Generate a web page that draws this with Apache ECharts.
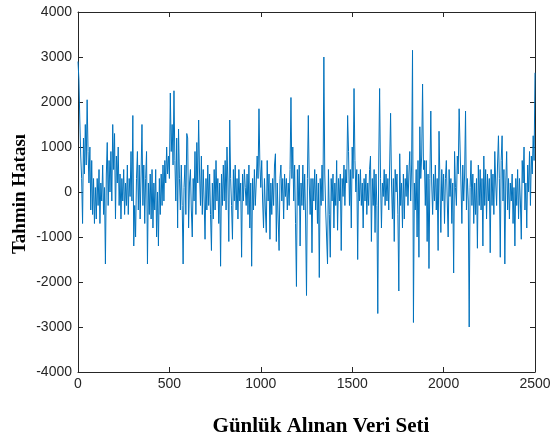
<!DOCTYPE html>
<html>
<head>
<meta charset="utf-8">
<script src="https://cdn.jsdelivr.net/npm/echarts@6/dist/echarts.min.js"></script>
<style>
  html, body { margin: 0; padding: 0; background: #fff; }
  #chart { width: 550px; height: 441px; }
</style>
</head>
<body>
<div id="chart"></div>
<script>
// one value every 5 days
const step = 5;
const errors = [
  2900, 2500, 1600, 800, 300, -700, 1200, 400, 1500, 600, 2050, 900, 200, 1000, -400, 700, -500, 300, -700, 100,
  -600, 300, -300, 500, -700, 200, -200, 600, -500, 100, -1600, 400, 1100, -300, 700, 0, 900, -200, 1500, 500,
  1300, -600, 800, 200, 1000, -300, 400, -600, 300, -200, 500, -500, 200, -300, 600, -500, 300, -100, 900, -200,
  1700, -1200, -300, -1000, 300, 900, -400, 600, -600, 400, 1500, -300, 600, -700, 300, 900, -1600, 200, -500, 400,
  -600, 500, -800, 200, -400, 500, -1000, 0, -1200, 300, -500, 400, -300, 600, -200, 700, 200, 1000, 400, 800,
  300, 2200, 900, 1500, 600, 2250, 700, -200, 1200, -800, 1400, 300, -400, 600, -300, -1600, 100, 600, -500, 1300,
  1200, -800, 200, 500, -400, -1000, 300, -200, 900, -500, 1100, 200, 1600, 400, -300, 800, -500, 500, -200, -1050,
  300, -400, 600, -300, 400, -500, -1300, 200, -600, 500, -400, 700, -200, 300, -700, 200, -1650, 400, -300, 600,
  -200, 700, -400, 1000, 200, -1100, 1600, 300, -300, -1050, 500, -200, 600, -400, 300, -600, 500, -200, 200, -1450,
  400, -200, 500, 100, -300, 400, -500, 600, -800, 200, -1650, 300, -400, 500, -300, 200, 800, 300, 1850, 600,
  100, 700, -200, -800, 300, -400, -900, 700, -200, 400, -1050, 200, -500, 300, -300, 600, 850, -1100, 200, -600,
  -1300, 300, 600, -200, 300, -600, 400, -100, 300, -400, 200, -300, 500, 2100, 300, 1000, -200, 600, -700, -2100,
  500, -300, 600, -1200, 200, -300, 600, -400, 400, -600, -2300, 300, 1700, 200, -500, 300, -1350, 300, -200, 500,
  -400, 400, -700, 200, -1900, 300, -300, 600, -200, 3000, 400, -400, -1000, -1600, 500, -500, -1450, 300, -200, 400,
  -800, 200, -300, 700, -850, 300, -200, 400, -1300, 300, -100, 600, -300, 500, 200, 1700, 900, -300, 500, -800,
  1000, 300, 2300, 700, 0, 500, -1500, 400, -200, 500, -300, 200, -800, 300, -200, 400, -500, 200, -300, 500,
  800, -1100, 300, -300, 500, -900, 400, -300, -2700, 600, 2300, 300, -800, 200, -100, 500, -300, 400, -200, 300,
  -400, 600, 1750, 200, -600, 300, -1100, 500, 0, 400, -500, -2200, 850, -300, 200, -800, 400, -600, 300, -100,
  600, -300, 400, 900, -200, 600, 3150, -2900, 200, -400, 500, -1000, 700, -1450, 1450, 300, 800, 2400, 500, 700,
  -300, 700, -1100, 400, -1700, 300, 1800, 200, -500, 400, -200, 600, -400, 300, -1300, 1350, 200, -900, 500, -200,
  400, -700, 300, 700, -200, -1000, 500, -100, 300, -700, 200, -1800, 900, 100, -300, 800, 400, 1850, 1000, 200,
  -700, 600, -200, 400, 1800, -400, 300, -200, -3000, 100, 700, -300, 400, -700, 200, -500, 300, -1250, 600, -300,
  500, -400, 300, -1200, 800, -300, 500, -600, 400, -200, 300, -1350, 500, -300, 400, -500, 900, 200, -300, 600,
  1250, 300, -1450, 700, 1250, -200, 500, -1600, 200, 900, -400, 300, -600, 200, -200, 400, -700, 100, -1200, 300,
  -300, 500, -600, 300, -200, -1050, 700, 200, 1000, -400, 200, -800, 600, 0, 900, -300, 800, 400, 1250, 700,
  2650
];
const xTicks = [0, 500, 1000, 1500, 2000, 2500];
const yTicks = [-4000, -3000, -2000, -1000, 0, 1000, 2000, 3000, 4000];
const xTitle = 'Günlük Alınan Veri Seti';
const yTitle = 'Tahmin Hatası';

const points = errors.map((v, i) => [i * step, v]);

const axisColor = '#262626';
const chart = echarts.init(document.getElementById('chart'));

const tickCommon = { show: true, inside: true, length: 5, lineStyle: { color: axisColor, width: 1 } };
const lineCommon = { show: true, onZero: false, lineStyle: { color: axisColor, width: 1 } };
const plain = v => String(v);
const titleFont = { fontFamily: 'Liberation Serif', fontWeight: 'bold', fill: '#000', align: 'center', verticalAlign: 'middle' };

chart.setOption({
  animation: false,
  grid: { left: 78, right: 15, top: 12, bottom: 69, containLabel: false, outerBoundsMode: 'none' },
  graphic: [
    { type: 'text', x: 321, y: 427, style: Object.assign({ text: xTitle, fontSize: 21 }, titleFont) },
    { type: 'text', x: 20, y: 194, rotation: Math.PI / 2, style: Object.assign({ text: yTitle, fontSize: 19 }, titleFont) }
  ],
  xAxis: [{
    type: 'value',
    min: xTicks[0],
    max: xTicks[xTicks.length - 1],
    interval: 500,
    axisLine: lineCommon,
    axisTick: tickCommon,
    axisLabel: { margin: 5, fontFamily: 'Liberation Sans', fontSize: 14, color: axisColor, formatter: plain },
    splitLine: { show: false }
  }, {
    type: 'value',
    position: 'top',
    min: xTicks[0],
    max: xTicks[xTicks.length - 1],
    interval: 500,
    axisLine: lineCommon,
    axisTick: tickCommon,
    axisLabel: { show: false },
    splitLine: { show: false }
  }],
  yAxis: [{
    type: 'value',
    min: yTicks[0],
    max: yTicks[yTicks.length - 1],
    interval: 1000,
    axisLine: lineCommon,
    axisTick: tickCommon,
    axisLabel: { margin: 6, fontFamily: 'Liberation Sans', fontSize: 14, color: axisColor, formatter: plain },
    splitLine: { show: false }
  }, {
    type: 'value',
    position: 'right',
    min: yTicks[0],
    max: yTicks[yTicks.length - 1],
    interval: 1000,
    axisLine: lineCommon,
    axisTick: tickCommon,
    axisLabel: { show: false },
    splitLine: { show: false }
  }],
  series: [{
    type: 'line',
    data: points,
    showSymbol: false,
    lineStyle: { color: '#0072BD', width: 1 },
    emphasis: { disabled: true }
  }]
});
</script>
</body>
</html>
